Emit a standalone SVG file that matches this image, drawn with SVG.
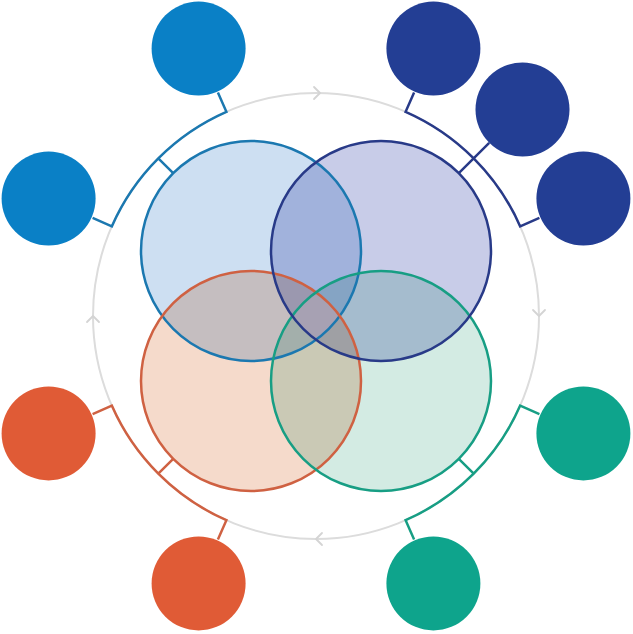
<svg xmlns="http://www.w3.org/2000/svg" width="633" height="634" viewBox="0 0 633 634">
<style>
.ring{fill:none;stroke:#dcdcdc;stroke-width:2}
.chev{fill:none;stroke:#d4d4d4;stroke-width:1.8;stroke-linecap:round;stroke-linejoin:round}
.br{fill:none;stroke-width:2.5;stroke-linecap:butt}
.big{stroke-width:2.5;mix-blend-mode:multiply}
.bl{stroke:#1b78b0}.pu{stroke:#283a88}.or{stroke:#cf6142}.gr{stroke:#179e84}
.sbl{fill:#0a80c6}.spu{fill:#233e94}.sor{fill:#e05b36}.sgr{fill:#0ea48c}
</style>
<rect width="633" height="634" fill="#ffffff"/>
<g id="ring">
<circle class="ring" cx="316" cy="316" r="223"/>
<polyline class="chev" points="314,87 320,93 314,99"/>
<polyline class="chev" points="533,310 539,316 545,310"/>
<polyline class="chev" points="322,533 316,539 322,545"/>
<polyline class="chev" points="87,322 93,316 99,322"/>
</g>
<g id="venn" style="isolation:isolate">
<circle id="venn-blue" class="big" cx="251" cy="251" r="110" fill="#cddff2" stroke="none"/>
<circle id="venn-purple" class="big" cx="381" cy="251" r="110" fill="#c8cce8" stroke="none"/>
<circle id="venn-orange" class="big" cx="251" cy="381" r="110" fill="#f5dacb" stroke="none"/>
<circle id="venn-green" class="big" cx="381" cy="381" r="110" fill="#d3ebe3" stroke="none"/>
</g>
<path id="venn-center" d="M316 292.3 A110 110 0 0 1 339.7 316 A110 110 0 0 1 316 339.7 A110 110 0 0 1 292.3 316 A110 110 0 0 1 316 292.3 Z" fill="#a7a1b3"/>
<g id="venn-outlines" fill="none" stroke-width="2.5">
<circle class="bl" cx="251" cy="251" r="110"/>
<circle class="or" cx="251" cy="381" r="110"/>
<circle class="gr" cx="381" cy="381" r="110"/>
<circle class="pu" cx="381" cy="251" r="110"/>
</g>
<g id="connectors">
<path class="br bl" d="M92.6 217.9 L111.8 226.4 A223 223 0 0 1 226.4 111.8 L217.9 92.6 M158.3 158.3 L173.2 173.2"/>
<path class="br pu" d="M414.1 92.6 L405.6 111.8 A223 223 0 0 1 520.2 226.4 L539.4 217.9 M458.8 173.2 L489.2 142.8"/>
<path class="br gr" d="M539.4 414.1 L520.2 405.6 A223 223 0 0 1 405.6 520.2 L414.1 539.4 M473.7 473.7 L458.8 458.8"/>
<path class="br or" d="M217.9 539.4 L226.4 520.2 A223 223 0 0 1 111.8 405.6 L92.6 414.1 M158.3 473.7 L173.2 458.8"/>
</g>
<g id="node-blue-1"><circle class="sbl" cx="198.6" cy="48.6" r="47"/></g>
<g id="node-blue-2"><circle class="sbl" cx="48.6" cy="198.6" r="47"/></g>
<g id="node-purple-1"><circle class="spu" cx="433.4" cy="48.6" r="47"/></g>
<g id="node-purple-2"><circle class="spu" cx="522.5" cy="109.5" r="47"/></g>
<g id="node-purple-3"><circle class="spu" cx="583.4" cy="198.6" r="47"/></g>
<g id="node-green-1"><circle class="sgr" cx="583.4" cy="433.4" r="47"/></g>
<g id="node-green-2"><circle class="sgr" cx="433.4" cy="583.4" r="47"/></g>
<g id="node-orange-1"><circle class="sor" cx="48.6" cy="433.4" r="47"/></g>
<g id="node-orange-2"><circle class="sor" cx="198.6" cy="583.4" r="47"/></g>
</svg>
